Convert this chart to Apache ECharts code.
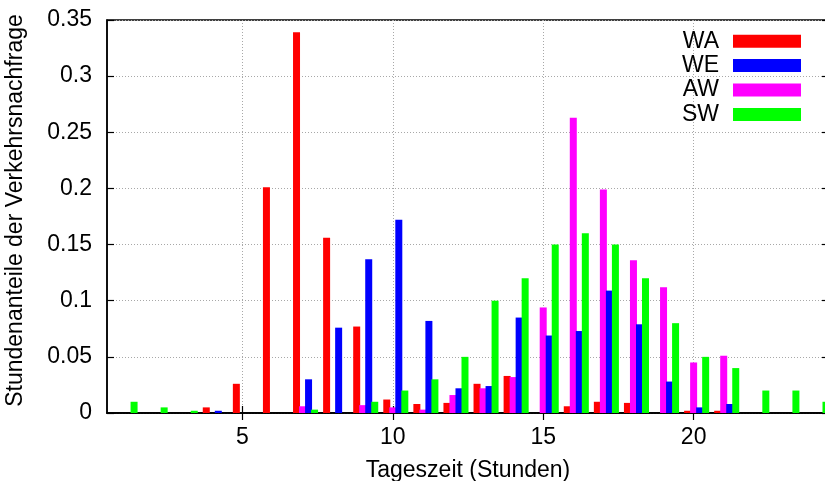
<!DOCTYPE html>
<html lang="de">
  <head>
    <meta charset="UTF-8" />
    <script src="https://cdn.jsdelivr.net/npm/echarts@6/dist/echarts.min.js"></script>
    <title>Stundenanteile</title>
    <style>
      html, body { margin: 0; padding: 0; background: #fff; }
      #app { width: 825px; height: 481px; }
    </style>
  </head>
  <body>
    <div id="app"></div>

    <script>
      // Tageszeit (Stunden) 1..24
      const hours = [1, 2, 3, 4, 5, 6, 7, 8, 9, 10, 11, 12, 13, 14, 15, 16, 17, 18, 19, 20, 21, 22, 23, 24];
      const xTicks = [5, 10, 15, 20];

      const wa = [0, 0, 0, 0.005, 0.026, 0.201, 0.339, 0.156, 0.077, 0.012, 0.008, 0.009, 0.026, 0.033, 0, 0.006, 0.010, 0.009, 0, 0.002, 0.002, 0, 0, 0];
      const we = [0, 0, 0, 0.002, 0, 0, 0.030, 0.076, 0.137, 0.172, 0.082, 0.022, 0.024, 0.085, 0.069, 0.073, 0.109, 0.079, 0.028, 0.005, 0.008, 0, 0, 0];
      const aw = [0, 0, 0, 0, 0, 0, 0.006, 0, 0.007, 0.005, 0.003, 0.016, 0.022, 0.032, 0.094, 0.263, 0.199, 0.136, 0.112, 0.045, 0.051, 0, 0, 0];
      const sw = [0.010, 0.005, 0.002, 0, 0, 0, 0.003, 0, 0.010, 0.020, 0.030, 0.050, 0.100, 0.120, 0.150, 0.160, 0.150, 0.120, 0.080, 0.050, 0.040, 0.020, 0.020, 0.010];

      const font = "Liberation Sans";

      // name, values, colour, offset inside the hour, drawing order
      const groups = [
        ["WA", wa, "#ff0000", -0.2, 2],
        ["WE", we, "#0000ff", 0.2, 4],
        ["AW", aw, "#ff00ff", 0, 3],
        ["SW", sw, "#00ff00", 0.4, 5],
      ];

      const chart = echarts.init(document.getElementById("app"));

      const frameTick = { show: true, inside: true, length: 7, lineStyle: { color: "#000", width: 1.2 } };
      const dotted = { show: true, lineStyle: { color: "#a8a8a8", width: 1, type: [1, 2] } };

      chart.setOption({
        animation: false,
        textStyle: { fontFamily: font },
        grid: {
          left: 107,
          right: -4,
          top: 20,
          bottom: 68,
          outerBoundsMode: "none",
          containLabel: false,
          show: true,
          borderColor: "#000",
          borderWidth: 1.5,
        },
        legend: {
          orient: "vertical",
          align: "right",
          right: 19,
          top: 24,
          itemWidth: 68,
          itemHeight: 13,
          itemGap: 0,
          icon: "rect",
          selectedMode: false,
          textStyle: { fontSize: 23, color: "#000", lineHeight: 24.4, padding: [0, 9, 0, 0] },
          data: groups.map((g) => g[0]),
        },
        xAxis: [
          {
            type: "value",
            min: 0.5,
            max: 24.5,
            name: "Tageszeit (Stunden)",
            nameLocation: "middle",
            nameGap: 46,
            nameTextStyle: { fontSize: 23, color: "#000" },
            axisLine: { show: true, lineStyle: { color: "#000", width: 1.5 } },
            axisTick: Object.assign({ customValues: xTicks }, frameTick),
            axisLabel: { customValues: xTicks, fontSize: 23, color: "#000", margin: 13 },
            splitLine: dotted,
          },
          {
            type: "value",
            position: "top",
            min: 0.5,
            max: 24.5,
            axisLine: { show: true, lineStyle: { color: "#000", width: 1.5 } },
            axisTick: Object.assign({ customValues: xTicks }, frameTick),
            axisLabel: { show: false },
            splitLine: { show: false },
          },
        ],
        yAxis: [
          {
            type: "value",
            min: 0,
            max: 0.35,
            interval: 0.05,
            name: "Stundenanteile der Verkehrsnachfrage",
            nameLocation: "middle",
            nameGap: 80,
            nameTextStyle: { fontSize: 23, color: "#000", padding: [0, 0, 0, 12] },
            axisLine: { show: true, lineStyle: { color: "#000", width: 1.5 } },
            axisTick: frameTick,
            axisLabel: { fontSize: 23, color: "#000", margin: 15 },
            splitLine: dotted,
          },
          {
            type: "value",
            position: "right",
            min: 0,
            max: 0.35,
            interval: 0.05,
            axisLine: { show: true, lineStyle: { color: "#000", width: 1.5 } },
            axisTick: frameTick,
            axisLabel: { show: false },
            splitLine: { show: false },
          },
        ],
        series: groups.map(([name, vals, color, off, z]) => ({
          name,
          type: "bar",
          xAxisIndex: 0,
          yAxisIndex: 0,
          barWidth: 7,
          barGap: "-100%",
          z,
          itemStyle: { color },
          data: hours.map((h, i) => [h + off, vals[i]]),
        })),
      });
    </script>
  </body>
</html>
